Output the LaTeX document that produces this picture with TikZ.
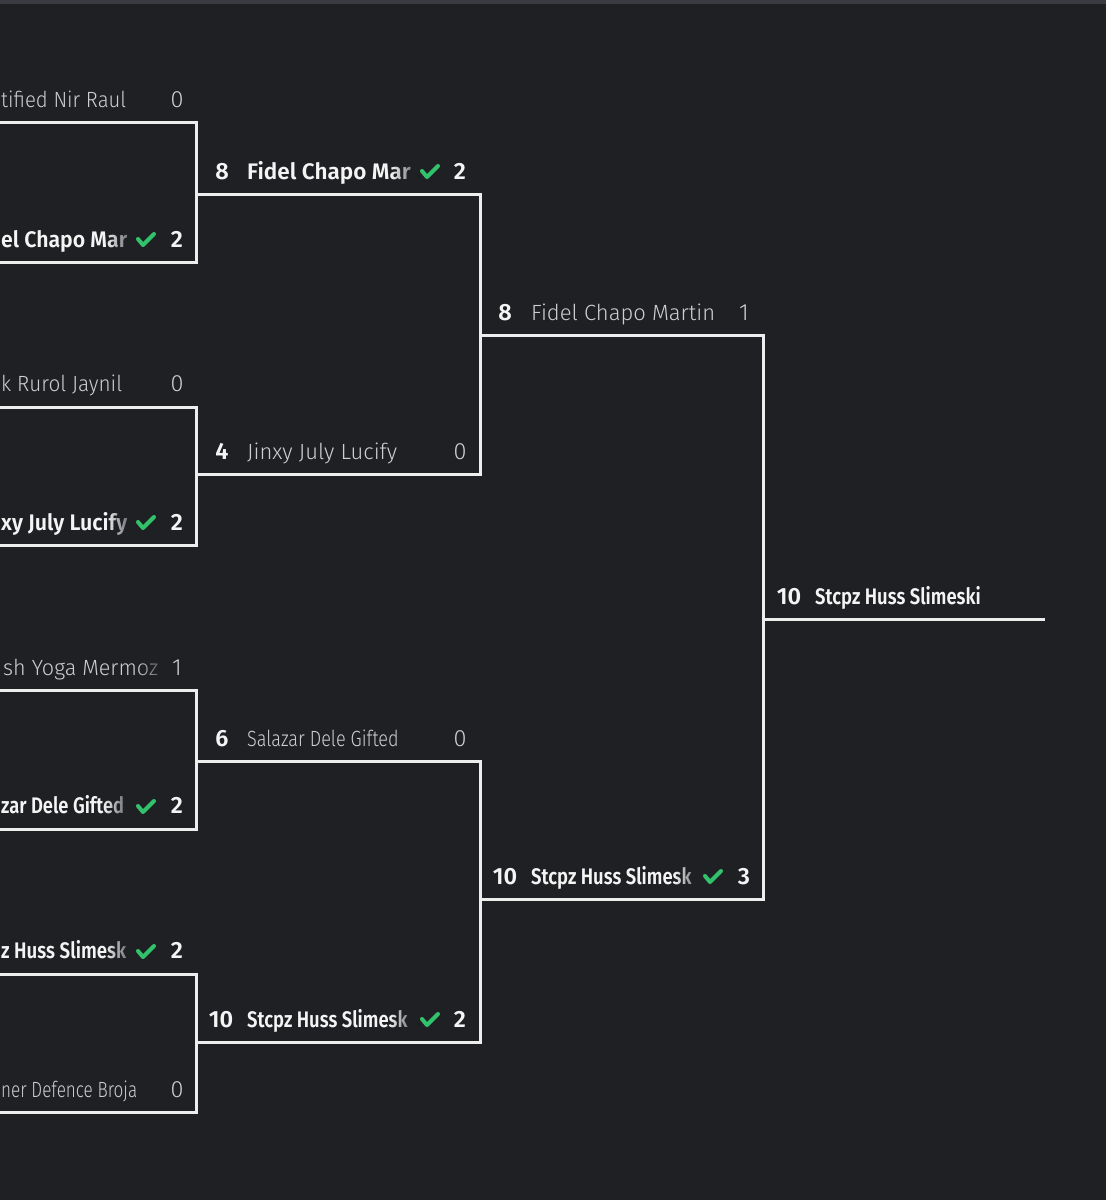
\documentclass[tikz,border=0pt]{standalone}
\usepackage{fontspec}
\setmainfont{Fira Sans}
\IfFontExistsTF{Fira Sans Light}{\newfontfamily\litefont{Fira Sans Light}}{\newfontfamily\litefont{Fira Sans}}
\IfFontExistsTF{Fira Sans SemiBold}{\newfontfamily\semifont{Fira Sans SemiBold}}{\newcommand{\semifont}{\bfseries}}
\usepackage{tikz}
\usetikzlibrary{fadings}
\definecolor{bgc}{HTML}{1F2024}
\definecolor{topbar}{HTML}{3A3B40}
\definecolor{linec}{HTML}{EDEDED}
\definecolor{wintxt}{HTML}{F4F4F4}
\definecolor{losetxt}{HTML}{CDCED0}
\definecolor{okgreen}{HTML}{33C26C}
\newcommand{\lblsize}{\fontsize{22}{25}\selectfont}
\newcommand{\boldsize}{\fontsize{22.5}{25}\selectfont}
\newcommand{\numsize}{\fontsize{23.5}{26}\selectfont}
\newcommand{\narrow}[1]{\scalebox{0.82}[1]{#1}}
\newcommand{\fitto}[2]{\resizebox{#1pt}{\height}{#2}}
% fade the tail of a cut name into the background
\newcommand{\fadeout}[2]{\fill[bgc, path fading=west] (#1-21,#2-42) rectangle (#1+15,#2-4);}
\tikzset{
  bracket/.style={draw=linec, line width=3pt},
  seed/.style={anchor=base, inner sep=0pt, text=wintxt, font=\numsize\semifont},
  win/.style={anchor=base west, inner sep=0pt, text=wintxt, font=\boldsize\semifont},
  lose/.style={anchor=base west, inner sep=0pt, text=losetxt, font=\lblsize\litefont},
  wscore/.style={anchor=base, inner sep=0pt, text=wintxt, font=\numsize\semifont},
  lscore/.style={anchor=base, inner sep=0pt, text=losetxt, font=\numsize\litefont},
  tick/.pic={\draw[okgreen, line width=4pt, line cap=round, line join=round] (-8,-1) -- (-3,5) -- (8,-6);}
}

\begin{document}
\begin{tikzpicture}[x=1pt,y=-1pt]
\useasboundingbox (0,0) rectangle (1106,1200);
\fill[bgc] (0,0) rectangle (1106,1200);
\clip (0,0) rectangle (1106,1200);
\fill[topbar] (0,0) rectangle (1106,4);

% columns
\coordinate (v1) at (196,0);
\coordinate (v2) at (480,0);
\coordinate (v3) at (763,0);
\coordinate (vend) at (1045,0);
% round 1 slots
\coordinate (p1) at (-5,122);
\coordinate (p2) at (-5,262);
\coordinate (p3) at (-5,407);
\coordinate (p4) at (-5,545);
\coordinate (p5) at (-5,690);
\coordinate (p6) at (-5,829);
\coordinate (p7) at (-5,974);
\coordinate (p8) at (-5,1112);
% round 2, round 3, final
\coordinate (q1) at (196,194);
\coordinate (q2) at (196,474);
\coordinate (q3) at (196,761);
\coordinate (q4) at (196,1042);
\coordinate (r1) at (480,335);
\coordinate (r2) at (480,899);
\coordinate (fin) at (763,619);

\draw[bracket] (p1) -| (v1 |- p2) -- (p2);
\draw[bracket] (p3) -| (v1 |- p4) -- (p4);
\draw[bracket] (p5) -| (v1 |- p6) -- (p6);
\draw[bracket] (p7) -| (v1 |- p8) -- (p8);
\draw[bracket] (q1) -| (v2 |- q2) -- (q2);
\draw[bracket] (q3) -| (v2 |- q4) -- (q4);
\draw[bracket] (r1) -| (v3 |- r2) -- (r2);
\draw[bracket] (fin) -- (vend |- fin);

% round 1 (cut at the left edge)
\node[lose] (n1) at (1,107) {\fitto{125}{tified Nir Raul}};
\node[win] (n2) at (1,247) {\fitto{126}{el Chapo Mar}};
\node[lose] (n3) at (1,391) {\fitto{121}{k Rurol Jaynil}};
\node[win] (n4) at (1,530) {\fitto{126}{xy July Lucify}};
\node[lose] (n5) at (3,675) {\fitto{155}{sh Yoga Mermoz}};
\node[win] (n6) at (1,813) {\fitto{123}{zar Dele Gifted}};
\node[win] (n7) at (1,958) {\fitto{125}{z Huss Slimesk}};
\node[lose] (n8) at (1,1097) {\fitto{136}{ner Defence Broja}};

% round 2
\node[seed] (sq1) at (222,179) {8};
\node[win] (nq1) at (247,179) {Fidel Chapo Mar};
\node[seed] (sq2) at (222,459) {4};
\node[lose] (nq2) at (247,459) {Jinxy July Lucify};
\node[seed] (sq3) at (222,746) {6};
\node[lose] (nq3) at (247,746) {\narrow{Salazar Dele Gifted}};
\node[seed] (sq4) at (221,1027) {10};
\node[win] (nq4) at (247,1027) {\narrow{Stcpz Huss Slimesk}};

% round 3
\node[seed] (sr1) at (505,320) {8};
\node[lose] (nr1) at (531,320) {Fidel Chapo Martin};
\node[seed] (sr2) at (505,884) {10};
\node[win] (nr2) at (531,884) {\narrow{Stcpz Huss Slimesk}};

% final
\node[seed] (sf) at (789,604) {10};
\node[win] (nf) at (815,604) {\narrow{Stcpz Huss Slimeski}};

\fadeout{127}{262}
\fadeout{127}{545}
\fadeout{158}{690}
\fadeout{124}{829}
\fadeout{126}{974}
\fadeout{412}{194}
\fadeout{410}{1042}
\fadeout{695}{899}

% checks and scores
\pic at (146,240) {tick};
\pic at (146,523) {tick};
\pic at (146,807) {tick};
\pic at (146,952) {tick};
\pic at (430,172) {tick};
\pic at (430,1020) {tick};
\pic at (713,877) {tick};

\node[lscore] (g1) at (177,107) {0};
\node[wscore] (g2) at (177,247) {2};
\node[lscore] (g3) at (177,391) {0};
\node[wscore] (g4) at (177,530) {2};
\node[lscore] (g5) at (177,675) {1};
\node[wscore] (g6) at (177,813) {2};
\node[wscore] (g7) at (177,958) {2};
\node[lscore] (g8) at (177,1097) {0};
\node[wscore] (gq1) at (460,179) {2};
\node[lscore] (gq2) at (460,459) {0};
\node[lscore] (gq3) at (460,746) {0};
\node[wscore] (gq4) at (460,1027) {2};
\node[lscore] (gr1) at (744,320) {1};
\node[wscore] (gr2) at (744,884) {3};
\end{tikzpicture}
\end{document}
